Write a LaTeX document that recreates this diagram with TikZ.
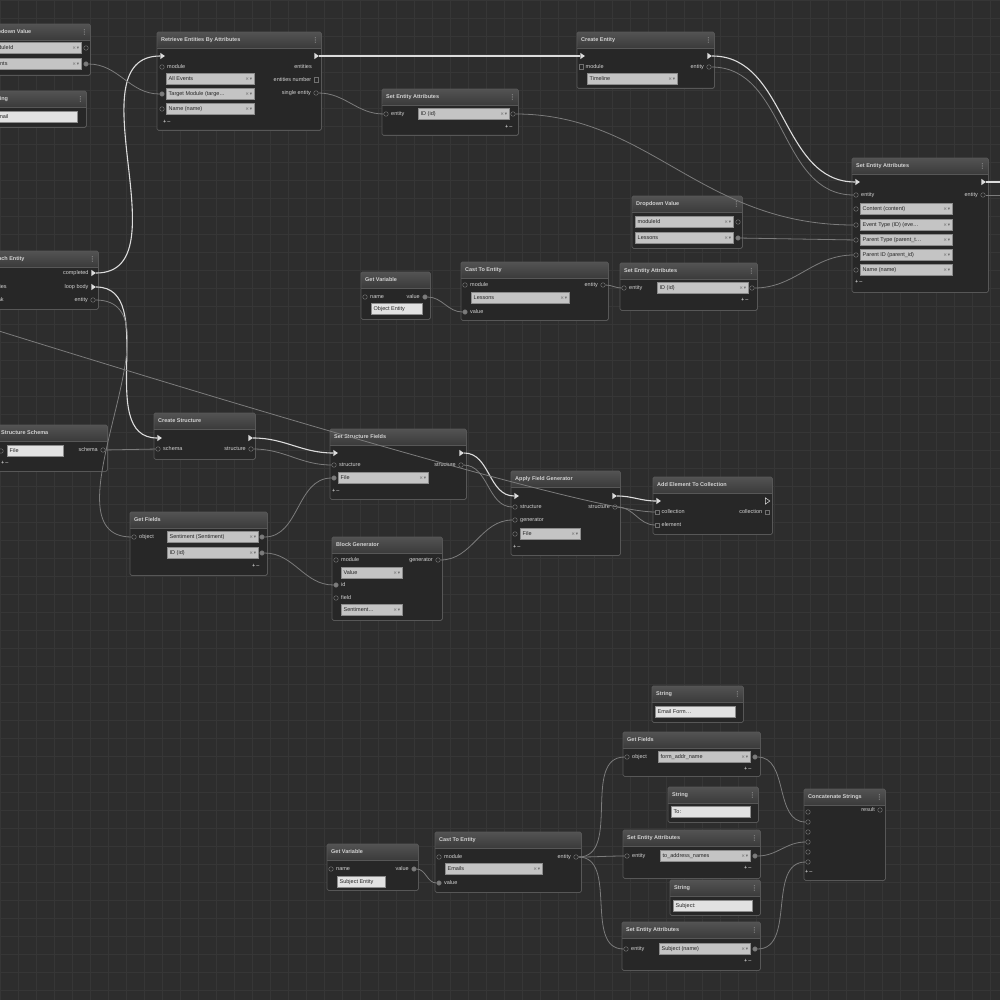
\documentclass[tikz,border=0pt]{standalone}
\usepackage{fontspec}
\setmainfont{Liberation Sans}
\newfontfamily\glyphfont{DejaVu Sans}
\usetikzlibrary{shapes.geometric}

\definecolor{bgc}{HTML}{2D2D2D}
\definecolor{gridc}{HTML}{363636}
\definecolor{bodyc}{HTML}{272727}
\definecolor{edgec}{HTML}{575757}
\definecolor{headA}{HTML}{525252}
\definecolor{headB}{HTML}{3B3B3B}
\definecolor{fieldc}{HTML}{C4C4C4}
\definecolor{fieldd}{HTML}{8C8C8C}
\definecolor{inputc}{HTML}{E2E2E2}
\definecolor{sockd}{HTML}{707070}
\definecolor{wirec}{HTML}{7C7C7C}
\definecolor{flowc}{HTML}{DCDCDC}
\definecolor{txtc}{HTML}{D2D2D2}

% one editor panel: name, x, y, width, height, title
\newcommand{\panel}[6]{%
  \node[panel, minimum width=#4pt, minimum height=#5pt] (#1) at (#2,#3) {};
  \shade[top color=headA, bottom color=headB] ([shift={(0.5,0.5)}]#1.north west) rectangle ([shift={(-0.5,16)}]#1.north east);
  \draw[edgec, line width=0.5pt] ([yshift=-16pt]#1.north west) -- ([yshift=-16pt]#1.north east);
  \draw[edgec, line width=0.8pt, rounded corners=1.5pt] (#1.north west) rectangle (#1.south east);
  \node[ttl] (#1-t) at ([shift={(4,8)}]#1.north west) {#6};
}
\newcommand{\menuicon}[1]{\node[menuic] (#1-m) at ([shift={(-6,8)}]#1.north east) {⋮};}
% dropdown field: name, x, y, width, text
\newcommand{\field}[5]{%
  \node[fld, minimum width=#4pt] (#1) at (#2,#3) {};
  \node[fldtxt] (#1-v) at ([xshift=2.5pt]#1.west) {#5};
  \node[pick] (#1-x) at ([xshift=-2pt]#1.east) {×\,▾};
}
% text input field
\newcommand{\sfield}[5]{%
  \node[inp, minimum width=#4pt] (#1) at (#2,#3) {};
  \node[fldtxt] (#1-v) at ([xshift=2.5pt]#1.west) {#5};
}
\newcommand{\inport}[5][sock]{\node[#1] (#2) at (#3,#4) {}; \node[lbl, anchor=west] (#2-l) at ([xshift=2.5pt]#2.east) {#5};}
\newcommand{\outport}[5][sock]{\node[#1] (#2) at (#3,#4) {}; \node[lbl, anchor=east] (#2-l) at ([xshift=-2.5pt]#2.west) {#5};}
\newcommand{\addrow}[3]{\node[lbl, anchor=west, text=white] (#1) at (#2,#3) {+\,\textendash};}

\begin{document}
\begin{tikzpicture}[x=1pt, y=-1pt,
    panel/.style={rectangle, anchor=north west, fill=bodyc, inner sep=0, rounded corners=1.5pt},
    ttl/.style={anchor=west, inner sep=0, text=txtc, font=\fontsize{5.5}{6}\selectfont\bfseries},
    menuic/.style={inner sep=0, text=txtc, font=\fontsize{6.5}{6.5}\selectfont\glyphfont},
    lbl/.style={inner sep=0, text=txtc, font=\fontsize{5.5}{6}\selectfont},
    fld/.style={rectangle, anchor=west, fill=fieldc, draw=fieldd, line width=0.4pt, minimum height=11pt, inner sep=0},
    inp/.style={fld, fill=inputc, draw=fieldd},
    fldtxt/.style={anchor=west, inner sep=0, text=black!85, font=\fontsize{5.5}{6}\selectfont},
    pick/.style={anchor=east, inner sep=0, text=black!60, font=\fontsize{4.5}{5}\selectfont\glyphfont},
    sock/.style={circle, draw=sockd, fill=bodyc, line width=0.5pt, minimum size=4.5pt, inner sep=0},
    sockon/.style={sock, fill=wirec},
    sqsock/.style={rectangle, draw=sockd, fill=bodyc, line width=0.5pt, minimum width=3.5pt, minimum height=4.5pt, inner sep=0},
    flow/.style={isosceles triangle, isosceles triangle apex angle=70, fill=flowc, minimum width=4.5pt, minimum height=4.5pt, inner sep=0},
    flowopen/.style={flow, fill=none, draw=flowc, line width=0.5pt},
    wire/.style={draw=wirec, line width=0.8pt},
    flowwire/.style={draw=flowc, line width=1.1pt}
  ]
  \useasboundingbox (0,0) rectangle (1000,1000);
  \clip (0,0) rectangle (1000,1000);
  \fill[bgc] (0,0) rectangle (1000,1000);
  \draw[gridc, line width=0.5pt, step=18pt] (0,1000) grid (1000,0);

  % top row
  \panel{dd1}{-16}{24}{106}{51}{Dropdown Value}\menuicon{dd1}
  \field{dd1-f1}{-12}{48}{93}{moduleId}
  \field{dd1-f2}{-12}{64}{93}{Events}
  \node[sock] (dd1-o1) at (86,48) {};
  \node[sockon] (dd1-o2) at (86,64) {};

  \panel{str1}{-12}{91}{98}{36}{String}\menuicon{str1}
  \sfield{str1-f}{-8}{117}{85}{Email}

  \panel{retr}{157}{32}{164}{98}{Retrieve Entities By Attributes}\menuicon{retr}
  \node[flow] (retr-in) at (162,56) {};
  \node[flow] (retr-out) at (316,56) {};
  \inport{retr-mod}{162}{67}{module}
  \field{retr-f1}{166}{79}{88}{All Events}
  \node[sockon] (retr-tm) at (162,94) {};
  \field{retr-f2}{166}{94}{88}{Target Module (targe\dots}
  \node[sock] (retr-nm) at (162,109) {};
  \field{retr-f3}{166}{109}{88}{Name (name)}
  \addrow{retr-pm}{163}{122}
  \node[lbl, anchor=east] (retr-ents) at (312,67) {entities};
  \outport[sqsock]{retr-num}{316}{80}{entities number}
  \outport{retr-one}{316}{93}{single entity}

  \panel{crent}{577}{32}{137}{56}{Create Entity}\menuicon{crent}
  \node[flow] (crent-in) at (582,56) {};
  \node[flow] (crent-out) at (709,56) {};
  \inport[sqsock]{crent-mod}{581}{67}{module}
  \field{crent-f}{587}{79}{90}{Timeline}
  \outport{crent-ent}{709}{67}{entity}

  \panel{sea1}{382}{89}{136}{46}{Set Entity Attributes}\menuicon{sea1}
  \inport{sea1-ent}{386}{114}{entity}
  \field{sea1-f}{418}{114}{91}{ID (id)}
  \node[sock] (sea1-o) at (513,114) {};
  \addrow{sea1-pm}{505}{127}

  \panel{sea2}{852}{158}{136}{134}{Set Entity Attributes}\menuicon{sea2}
  \node[flow] (sea2-in) at (857,182) {};
  \node[flow] (sea2-out) at (983,182) {};
  \inport{sea2-ent}{856}{195}{entity}
  \outport{sea2-eo}{983}{195}{entity}
  \node[sock] (sea2-s1) at (856,209) {};
  \field{sea2-f1}{860}{209}{92}{Content (content)}
  \node[sock] (sea2-s2) at (856,225) {};
  \field{sea2-f2}{860}{225}{92}{Event Type (ID) (eve\dots}
  \node[sock] (sea2-s3) at (856,240) {};
  \field{sea2-f3}{860}{240}{92}{Parent Type (parent\_t\dots}
  \node[sock] (sea2-s4) at (856,255) {};
  \field{sea2-f4}{860}{255}{92}{Parent ID (parent\_id)}
  \node[sock] (sea2-s5) at (856,270) {};
  \field{sea2-f5}{860}{270}{92}{Name (name)}
  \addrow{sea2-pm}{855}{282}

  \panel{dd2}{632}{196}{110}{52}{Dropdown Value}\menuicon{dd2}
  \field{dd2-f1}{635}{222}{98}{moduleId}
  \field{dd2-f2}{635}{238}{98}{Lessons}
  \node[sock] (dd2-o1) at (738,222) {};
  \node[sockon] (dd2-o2) at (738,238) {};

  % loop and lesson lookup
  \panel{fe}{-20}{251}{118}{58}{For Each Entity}\menuicon{fe}
  \outport[flow]{fe-done}{93}{273}{completed}
  \inport{fe-ents}{-16}{287}{entities}
  \outport[flow]{fe-loop}{93}{287}{loop body}
  \inport[flow]{fe-brk}{-16}{300}{break}
  \outport{fe-ent}{93}{300}{entity}

  \panel{gv1}{361}{272}{69}{47}{Get Variable}
  \inport{gv1-nm}{365}{297}{name}
  \outport[sockon]{gv1-val}{425}{297}{value}
  \sfield{gv1-f}{371}{309}{51}{Object Entity}

  \panel{cast1}{461}{262}{147}{58}{Cast To Entity}
  \inport{cast1-mod}{465}{285}{module}
  \field{cast1-f}{471}{298}{98}{Lessons}
  \inport[sockon]{cast1-val}{465}{312}{value}
  \outport{cast1-ent}{603}{285}{entity}

  \panel{sea3}{620}{263}{137}{47}{Set Entity Attributes}\menuicon{sea3}
  \inport{sea3-ent}{624}{288}{entity}
  \field{sea3-f}{657}{288}{91}{ID (id)}
  \node[sock] (sea3-o) at (752,288) {};
  \addrow{sea3-pm}{741}{300}

  % structure chain
  \panel{ss}{-3}{425}{110}{46}{Structure Schema}
  \node[sock] (ss-s) at (1,451) {};
  \sfield{ss-f}{7}{451}{56}{File}
  \outport{ss-out}{103}{450}{schema}
  \addrow{ss-pm}{1}{463}

  \panel{cs}{154}{413}{101}{46}{Create Structure}
  \node[flow] (cs-in) at (159,438) {};
  \node[flow] (cs-out) at (250,438) {};
  \inport{cs-sch}{158}{449}{schema}
  \outport{cs-str}{251}{449}{structure}

  \panel{ssf}{330}{429}{136}{70}{Set Structure Fields}
  \node[flow] (ssf-in) at (335,453) {};
  \node[flow] (ssf-out) at (461,453) {};
  \inport{ssf-str}{334}{465}{structure}
  \outport{ssf-so}{461}{465}{structure}
  \node[sockon] (ssf-s1) at (334,478) {};
  \field{ssf-f}{338}{478}{90}{File}
  \addrow{ssf-pm}{332}{491}

  \panel{afg}{511}{471}{109}{84}{Apply Field Generator}
  \node[flow] (afg-in) at (516,496) {};
  \node[flow] (afg-out) at (614,496) {};
  \inport{afg-str}{515}{507}{structure}
  \outport{afg-so}{615}{507}{structure}
  \inport{afg-gen}{515}{520}{generator}
  \node[sock] (afg-s1) at (515,534) {};
  \field{afg-f}{520}{534}{60}{File}
  \addrow{afg-pm}{513}{547}

  \panel{aec}{653}{477}{119}{57}{Add Element To Collection}
  \node[flow] (aec-in) at (658,501) {};
  \node[flowopen] (aec-out) at (767,501) {};
  \inport[sqsock]{aec-col}{657}{512}{collection}
  \outport[sqsock]{aec-co}{767}{512}{collection}
  \inport[sqsock]{aec-el}{657}{525}{element}

  \panel{gf1}{130}{512}{137}{63}{Get Fields}
  \inport{gf1-obj}{134}{537}{object}
  \field{gf1-f1}{167}{537}{91}{Sentiment (Sentiment)}
  \node[sockon] (gf1-o1) at (262,537) {};
  \field{gf1-f2}{167}{553}{91}{ID (id)}
  \node[sockon] (gf1-o2) at (262,553) {};
  \addrow{gf1-pm}{252}{566}

  \panel{gen}{332}{537}{110}{83}{Block Generator}
  \inport{gen-mod}{336}{560}{module}
  \outport{gen-out}{438}{560}{generator}
  \field{gen-f1}{341}{573}{61}{Value}
  \inport[sockon]{gen-id}{336}{585}{id}
  \inport{gen-fld}{336}{598}{field}
  \field{gen-f2}{341}{610}{61}{Sentiment\dots}

  % email text
  \panel{str2}{652}{686}{91}{36}{String}\menuicon{str2}
  \sfield{str2-f}{655}{712}{80}{Email Form\dots}

  \panel{gf2}{623}{732}{137}{44}{Get Fields}
  \inport{gf2-obj}{627}{757}{object}
  \field{gf2-f}{658}{757}{92}{form\_addr\_name}
  \node[sockon] (gf2-o) at (755,757) {};
  \addrow{gf2-pm}{744}{769}

  \panel{str3}{668}{787}{90}{35}{String}\menuicon{str3}
  \sfield{str3-f}{671}{812}{79}{To: }

  \panel{cat}{804}{789}{81}{91}{Concatenate Strings}\menuicon{cat}
  \outport{cat-res}{880}{810}{result}
  \node[sock] (cat-i1) at (808,812) {};
  \node[sock] (cat-i2) at (808,822) {};
  \node[sock] (cat-i3) at (808,832) {};
  \node[sock] (cat-i4) at (808,842) {};
  \node[sock] (cat-i5) at (808,852) {};
  \node[sock] (cat-i6) at (808,862) {};
  \addrow{cat-pm}{805}{872}

  \panel{sea4}{623}{830}{137}{48}{Set Entity Attributes}\menuicon{sea4}
  \inport{sea4-ent}{627}{856}{entity}
  \field{sea4-f}{660}{856}{90}{to\_address\_names}
  \node[sockon] (sea4-o) at (755,856) {};
  \addrow{sea4-pm}{744}{868}

  \panel{str4}{670}{880}{90}{35}{String}\menuicon{str4}
  \sfield{str4-f}{673}{906}{79}{Subject: }

  \panel{sea5}{622}{922}{138}{48}{Set Entity Attributes}\menuicon{sea5}
  \inport{sea5-ent}{626}{949}{entity}
  \field{sea5-f}{659}{949}{91}{Subject (name)}
  \node[sockon] (sea5-o) at (755,949) {};
  \addrow{sea5-pm}{744}{961}

  \panel{gv2}{327}{844}{91}{46}{Get Variable}
  \inport{gv2-nm}{331}{869}{name}
  \outport[sockon]{gv2-val}{414}{869}{value}
  \sfield{gv2-f}{337}{882}{48}{Subject Entity}

  \panel{cast2}{435}{832}{146}{60}{Cast To Entity}
  \inport{cast2-mod}{439}{857}{module}
  \field{cast2-f}{445}{869}{97}{Emails}
  \inport[sockon]{cast2-val}{439}{883}{value}
  \outport{cast2-ent}{576}{857}{entity}

  % loose ends beyond the view
  \coordinate (offL) at (-30,322);
  \coordinate (offR1) at (1012,182);
  \coordinate (offR2) at (1012,195);

  % execution wires
  \draw[flowwire] (fe-done) to[out=0, in=180] (retr-in);
  \draw[flowwire] (retr-out) -- (crent-in);
  \draw[flowwire] (crent-out) to[out=0, in=180] (sea2-in);
  \draw[flowwire] (sea2-out) -- (offR1);
  \draw[flowwire] (fe-loop) to[out=0, in=180] (cs-in);
  \draw[flowwire] (cs-out) to[out=0, in=180] (ssf-in);
  \draw[flowwire] (ssf-out) to[out=0, in=180] (afg-in);
  \draw[flowwire] (afg-out) to[out=0, in=180] (aec-in);

  % data wires
  \draw[wire] (dd1-o2) to[out=0, in=180] (retr-tm);
  \draw[wire] (retr-one) to[out=0, in=180] (sea1-ent);
  \draw[wire] (sea1-o) .. controls (650,114) and (700,225) .. (sea2-s2);
  \draw[wire] (crent-ent) to[out=0, in=180] (sea2-ent);
  \draw[wire] (sea2-eo) -- (offR2);
  \draw[wire] (dd2-o2) -- (sea2-s3);
  \draw[wire] (sea3-o) to[out=0, in=180] (sea2-s4);
  \draw[wire] (gv1-val) to[out=0, in=180] (cast1-val);
  \draw[wire] (cast1-ent) to[out=0, in=180] (sea3-ent);
  \draw[wire] (fe-ent) to[out=0, in=180] (gf1-obj);
  \draw[wire] (offL) .. controls (300,425) and (600,512) .. (aec-col);
  \draw[wire] (ss-out) -- (cs-sch);
  \draw[wire] (cs-str) to[out=0, in=180] (ssf-str);
  \draw[wire] (ssf-so) to[out=0, in=180] (afg-str);
  \draw[wire] (gf1-o1) to[out=0, in=180] (ssf-s1);
  \draw[wire] (gf1-o2) to[out=0, in=180] (gen-id);
  \draw[wire] (gen-out) to[out=0, in=180] (afg-gen);
  \draw[wire] (afg-so) to[out=0, in=180] (aec-el);

  \draw[wire] (gv2-val) to[out=0, in=180] (cast2-val);
  \draw[wire] (cast2-ent) to[out=0, in=180] (gf2-obj);
  \draw[wire] (cast2-ent) to[out=0, in=180] (sea4-ent);
  \draw[wire] (cast2-ent) to[out=0, in=180] (sea5-ent);
  \draw[wire] (gf2-o) to[out=0, in=180] (cat-i2);
  \draw[wire] (sea4-o) to[out=0, in=180] (cat-i4);
  \draw[wire] (sea5-o) to[out=0, in=180] (cat-i6);
\end{tikzpicture}
\end{document}
